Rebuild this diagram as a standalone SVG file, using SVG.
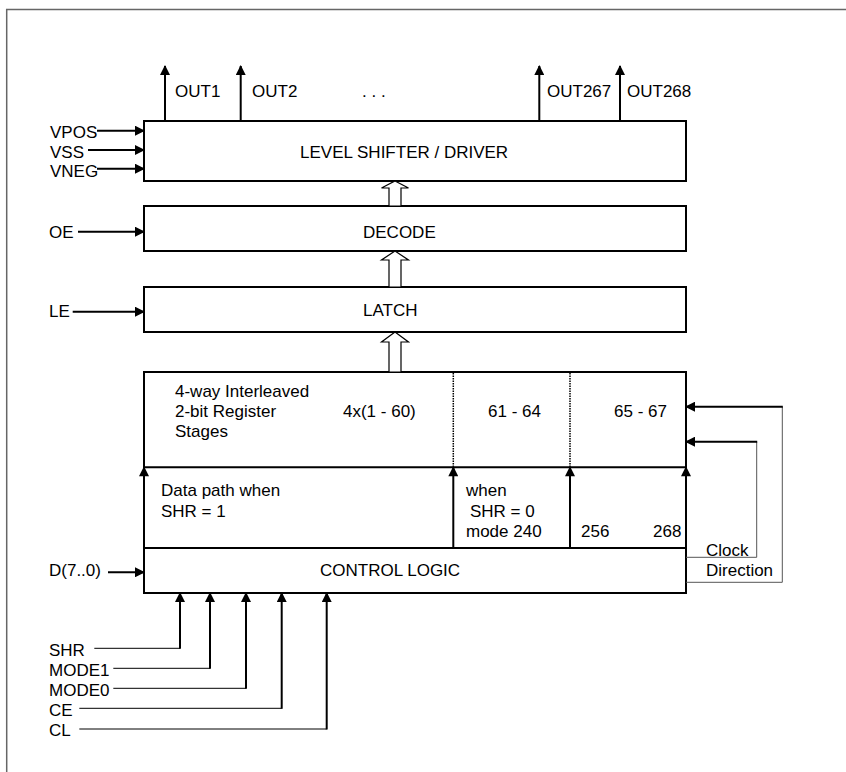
<svg xmlns="http://www.w3.org/2000/svg" width="846" height="772" viewBox="0 0 846 772">
<style>
text{font-family:"Liberation Sans",Arial,sans-serif;font-size:17px;fill:#000}
.box{fill:#fff;stroke:#000;stroke-width:2}
.w{stroke:#000;stroke-width:2;fill:none}
.a{stroke:#000;stroke-width:2;fill:none;marker-end:url(#ah)}
.t{stroke:#000;stroke-width:1;fill:none}
.g{stroke:#555;stroke-width:1;fill:none}
.dot{stroke:#000;stroke-width:1.5;stroke-dasharray:1.5 1;fill:none}
.hol{fill:#fff;stroke:#000;stroke-width:1.2}
</style>
<defs>
<marker id="ah" viewBox="0 0 10 10" refX="9" refY="5" markerWidth="11" markerHeight="10" markerUnits="userSpaceOnUse" orient="auto">
<path d="M0,0 L10,5 L0,10 z" fill="#000"/>
</marker>
</defs>
<path d="M6.7,772 V9.5 H846" fill="none" stroke="#666" stroke-width="1.5"/>

<g id="level-shifter">
<rect class="box" x="144" y="121" width="542" height="60"/>
<text x="300" y="158">LEVEL SHIFTER / DRIVER</text>
</g>
<g id="decode">
<rect class="box" x="144" y="206" width="542" height="45"/>
<text x="363" y="238">DECODE</text>
</g>
<g id="latch">
<rect class="box" x="144" y="287" width="542" height="45"/>
<text x="363" y="316">LATCH</text>
</g>
<g id="register">
<rect class="box" x="144" y="372" width="542" height="176"/>
<line class="w" x1="144" y1="467.3" x2="686" y2="467.3"/>
<line class="dot" x1="453.3" y1="373" x2="453.3" y2="467"/>
<line class="dot" x1="570" y1="373" x2="570" y2="467"/>
<text x="175" y="397">4-way Interleaved</text>
<text x="175" y="417">2-bit Register</text>
<text x="175" y="437">Stages</text>
<text x="343" y="417">4x(1 - 60)</text>
<text x="488" y="417">61 - 64</text>
<text x="614" y="417">65 - 67</text>
<text x="161" y="496">Data path when</text>
<text x="161" y="517">SHR = 1</text>
<text x="466" y="496">when</text>
<text x="470" y="517">SHR = 0</text>
<text x="466" y="537">mode 240</text>
<text x="581" y="537">256</text>
<text x="653" y="537">268</text>
</g>
<g id="control-logic">
<rect class="box" x="144" y="548" width="542" height="45"/>
<text x="320" y="576">CONTROL LOGIC</text>
</g>

<g id="labels">
<text x="175" y="97">OUT1</text>
<text x="252" y="97">OUT2</text>
<text x="362" y="97">.  .  .</text>
<text x="547" y="97">OUT267</text>
<text x="627" y="97">OUT268</text>
<text x="50" y="138">VPOS</text>
<text x="50" y="158">VSS</text>
<text x="50" y="177">VNEG</text>
<text x="49" y="238">OE</text>
<text x="49" y="317">LE</text>
<text x="49" y="576">D(7..0)</text>
<text x="49" y="656">SHR</text>
<text x="49" y="676">MODE1</text>
<text x="49" y="696">MODE0</text>
<text x="49" y="716">CE</text>
<text x="49" y="736">CL</text>
<text x="706" y="556">Clock</text>
<text x="706" y="576">Direction</text>
</g>

<g id="connectors">
<line class="a" x1="165" y1="121" x2="165" y2="66"/>
<line class="a" x1="240.7" y1="121" x2="240.7" y2="66"/>
<line class="a" x1="539.3" y1="121" x2="539.3" y2="66"/>
<line class="a" x1="620" y1="121" x2="620" y2="66"/>
<line class="a" x1="97" y1="130.7" x2="144" y2="130.7"/>
<line class="a" x1="88" y1="150" x2="144" y2="150"/>
<line class="a" x1="97" y1="168.7" x2="144" y2="168.7"/>
<line class="a" x1="78" y1="231.7" x2="144" y2="231.7"/>
<line class="a" x1="72.7" y1="311.7" x2="144" y2="311.7"/>
<line class="a" x1="108" y1="572.3" x2="144" y2="572.3"/>
<polygon class="hol" points="395,181 408.5,188 401,188 401,206 389,206 389,188 381.5,188"/>
<polygon class="hol" points="395,251 408.5,260 401,260 401,287 389,287 389,260 381.5,260"/>
<polygon class="hol" points="395,332 408.5,342 401,342 401,372 389,372 389,342 381.5,342"/>
<line class="a" x1="144" y1="548" x2="144" y2="467.3"/>
<line class="a" x1="453.3" y1="548" x2="453.3" y2="467.3"/>
<line class="a" x1="570" y1="548" x2="570" y2="467.3"/>
<line class="a" x1="686" y1="548" x2="686" y2="467.3"/>
<polyline class="g" points="686,557.3 756.7,557.3 756.7,441.7"/>
<line class="a" x1="757.2" y1="441.7" x2="686" y2="441.7"/>
<polyline class="g" points="686,582.3 782.3,582.3 782.3,406.7"/>
<line class="a" x1="782.8" y1="406.7" x2="686" y2="406.7"/>
<polyline class="t" points="94.3,648.3 180,648.3"/>
<line class="a" x1="180" y1="648.8" x2="180" y2="593"/>
<polyline class="t" points="113.3,668.3 210,668.3"/>
<line class="a" x1="210" y1="668.8" x2="210" y2="593"/>
<polyline class="t" points="113.3,688.3 246,688.3"/>
<line class="a" x1="246" y1="688.8" x2="246" y2="593"/>
<polyline class="t" points="79.3,708.3 281.7,708.3"/>
<line class="a" x1="281.7" y1="708.8" x2="281.7" y2="593"/>
<polyline class="t" points="79.3,729 326.7,729"/>
<line class="a" x1="326.7" y1="729.5" x2="326.7" y2="593"/>
</g>
</svg>
